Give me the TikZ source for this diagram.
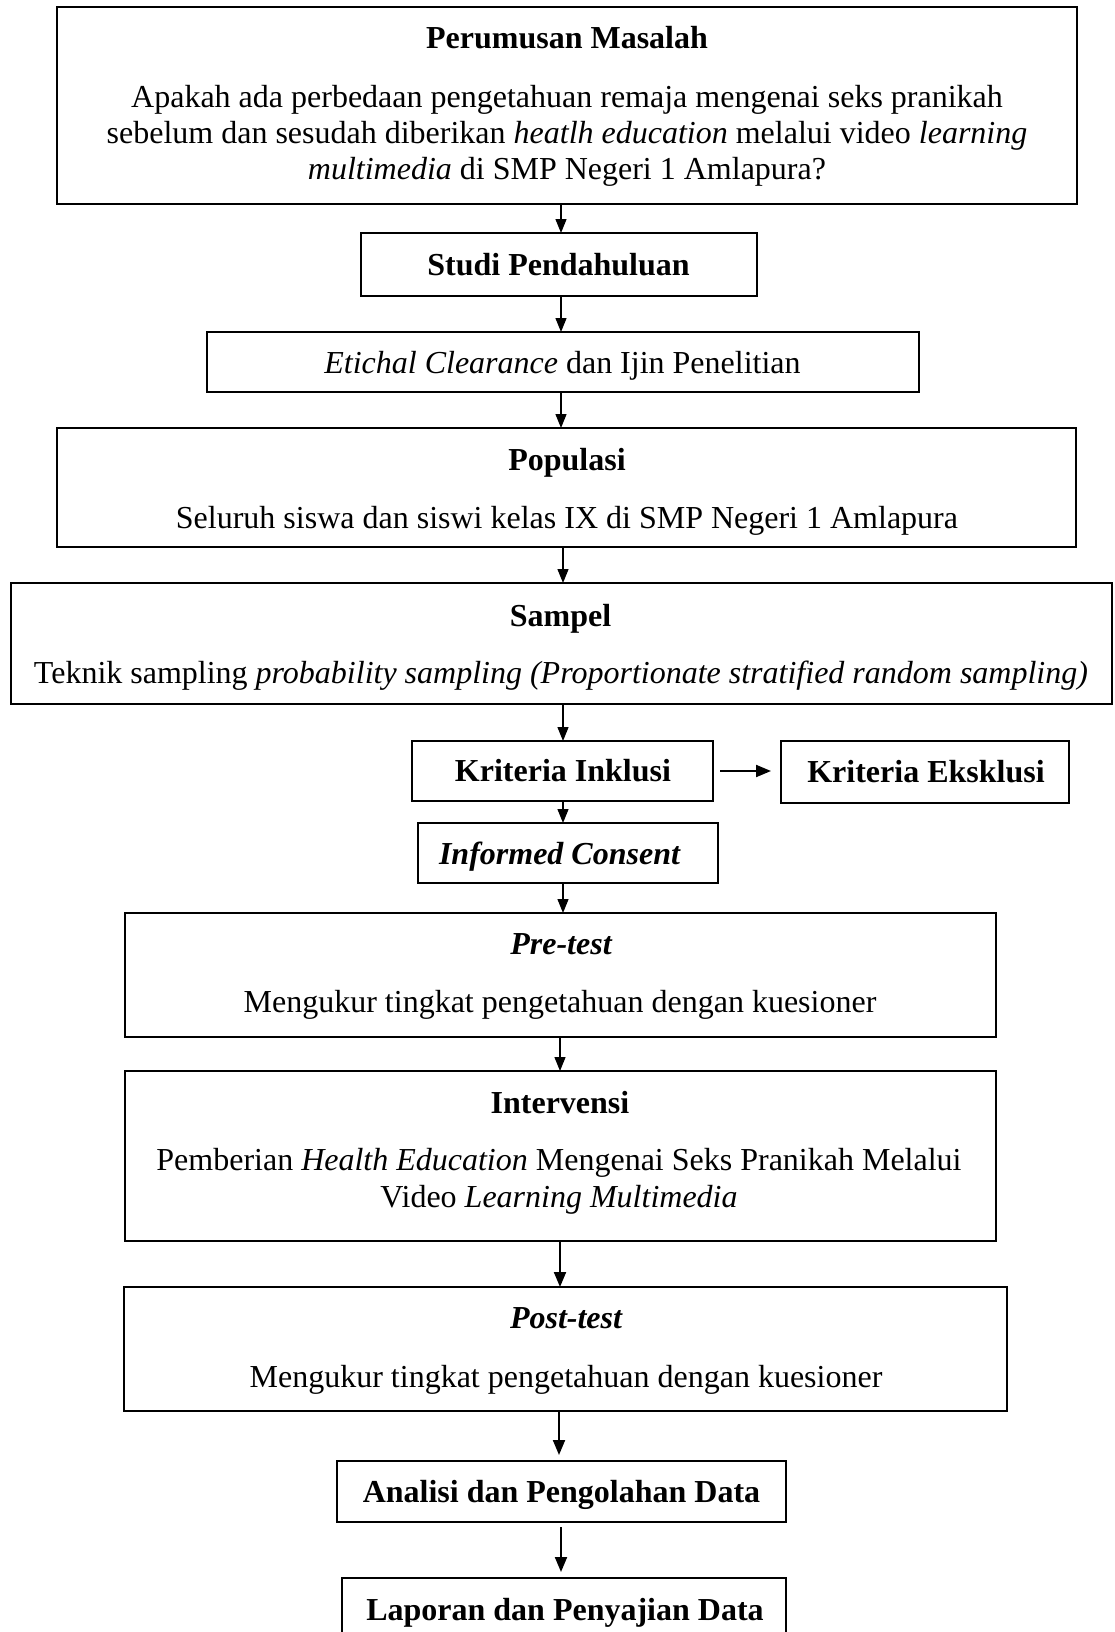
\documentclass[tikz,border=0pt]{standalone}
\usepackage{fontspec}
\setmainfont{Liberation Serif}
\usetikzlibrary{arrows.meta}
\begin{document}
\begin{tikzpicture}[x=1pt,y=-1pt,
  box/.style={draw, line width=2.2pt, inner sep=0pt, outer sep=0pt},
  txt/.style={anchor=base, inner sep=0pt, font=\fontsize{32}{37.5}\selectfont},
  ttl/.style={anchor=base, inner sep=0pt, font=\fontsize{32}{37.5}\selectfont\bfseries},
  arr/.style={line width=1.3pt, -{Triangle[length=14pt,width=11pt]}},
  arrb/.style={line width=2pt, -{Triangle[length=15pt,width=12pt]}}]
\clip (0,0) rectangle (1114,1632);
\fill[white] (0,0) rectangle (1114,1632);

% boxes
\node[box, minimum width=1020pt, minimum height=197pt] (b1) at (567,105.5) {};
\node[box, minimum width=396pt, minimum height=63pt] (b2) at (559,264.5) {};
\node[box, minimum width=712pt, minimum height=60pt] (b3) at (563,362) {};
\node[box, minimum width=1019pt, minimum height=119pt] (b4) at (566.5,487.5) {};
\node[box, minimum width=1101pt, minimum height=121pt] (b5) at (561.5,643.5) {};
\node[box, minimum width=301pt, minimum height=60pt] (b6) at (562.5,771) {};
\node[box, minimum width=288pt, minimum height=62pt] (b7) at (925,772) {};
\node[box, minimum width=300pt, minimum height=60pt] (b8) at (568,853) {};
\node[box, minimum width=871pt, minimum height=124pt] (b9) at (560.5,975) {};
\node[box, minimum width=871pt, minimum height=170pt] (b10) at (560.5,1156) {};
\node[box, minimum width=883pt, minimum height=124pt] (b11) at (565.5,1349) {};
\node[box, minimum width=449pt, minimum height=61pt] (b12) at (561.5,1491.5) {};
\node[box, minimum width=444pt, minimum height=84pt] (b13) at (564,1620) {};

% texts
\node[ttl] (t1) at (567,49) {Perumusan Masalah};
\node[txt] (t1a) at (567,108) {Apakah ada perbedaan pengetahuan remaja mengenai seks pranikah};
\node[txt] (t1b) at (567,144) {sebelum dan sesudah diberikan \textit{heatlh education} melalui video \textit{learning}};
\node[txt] (t1c) at (567,180) {\textit{multimedia} di SMP Negeri 1 Amlapura?};
\node[ttl] (t2) at (558.5,275) {Studi Pendahuluan};
\node[txt] (t3) at (562.5,373) {\textit{Etichal Clearance} dan Ijin Penelitian};
\node[ttl] (t4) at (567,470) {Populasi};
\node[txt] (t4a) at (567,528) {Seluruh siswa dan siswi kelas IX di SMP Negeri 1 Amlapura};
\node[ttl] (t5) at (560.5,626) {Sampel};
\node[txt] (t5a) at (561,683) {Teknik sampling \textit{probability sampling (Proportionate stratified random sampling)}};
\node[ttl] (t6) at (563,781) {Kriteria Inklusi};
\node[ttl] (t7) at (926,782) {Kriteria Eksklusi};
\node[ttl] (t8) at (559.5,864) {\itshape Informed Consent};
\node[ttl] (t9) at (561,954) {\itshape Pre-test};
\node[txt] (t9a) at (560,1012) {Mengukur tingkat pengetahuan dengan kuesioner};
\node[ttl] (t10) at (560,1113) {Intervensi};
\node[txt] (t10a) at (559,1170) {Pemberian \textit{Health Education} Mengenai Seks Pranikah Melalui};
\node[txt] (t10b) at (559,1207) {Video \textit{Learning Multimedia}};
\node[ttl] (t11) at (566,1328) {\itshape Post-test};
\node[txt] (t11a) at (566,1387) {Mengukur tingkat pengetahuan dengan kuesioner};
\node[ttl] (t12) at (561.5,1502) {Analisi dan Pengolahan Data};
\node[ttl] (t13) at (565,1620) {Laporan dan Penyajian Data};

% arrow x positions
\coordinate (xa) at (561,0);
\coordinate (xb) at (563,0);
\coordinate (xc) at (560,0);
\coordinate (xd) at (559,0);

\draw[arr] (b1.south -| xa) -- (b2.north -| xa);
\draw[arr] (b2.south -| xa) -- (b3.north -| xa);
\draw[arr] (b3.south -| xa) -- (b4.north -| xa);
\draw[arr] (b4.south -| xb) -- (b5.north -| xb);
\draw[arr] (b5.south -| xb) -- (b6.north -| xb);
\draw[arr] (b6.south -| xb) -- (b8.north -| xb);
\draw[arr] (b8.south -| xb) -- (b9.north -| xb);
\draw[arr] (b9.south -| xc) -- (b10.north -| xc);
\draw[arrb] (b10.south -| xc) -- (b11.north -| xc);
\draw[arrb, shorten <=1pt, shorten >=6pt] (b11.south -| xd) -- (b12.north -| xd);
\draw[arrb, shorten <=5pt, shorten >=6pt] (b12.south -| xa) -- (b13.north -| xa);
\draw[arrb, shorten <=7pt, shorten >=10pt] (b6.east) -- (b7.west |- b6.east);
\end{tikzpicture}
\end{document}
